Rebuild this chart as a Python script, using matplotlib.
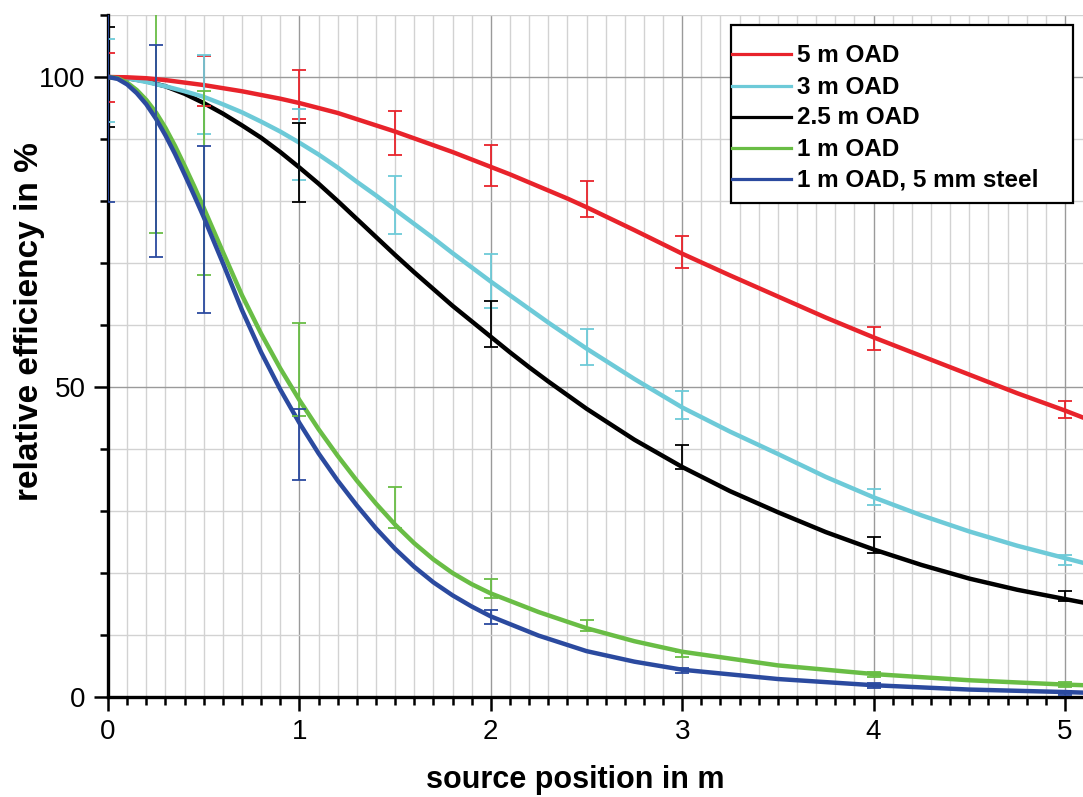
import matplotlib
matplotlib.use("Agg")
import matplotlib.pyplot as plt
from matplotlib.ticker import MultipleLocator, FixedLocator
from matplotlib.lines import Line2D
from matplotlib.patches import Rectangle

plt.rcParams['font.family'] = ['Liberation Sans', 'DejaVu Sans']

# ---------------- data ----------------
labels = ["5 m OAD", "3 m OAD", "2.5 m OAD", "1 m OAD", "1 m OAD, 5 mm steel"]
colors = ["#e8232b", "#6dcad8", "#000000", "#69bd45", "#2b4a9f"]

# model curves
x_rcb = [0, 0.1, 0.2, 0.3, 0.4, 0.5, 0.6, 0.7, 0.8, 0.9, 1.0, 1.1, 1.2, 1.3, 1.4, 1.5,
         1.6, 1.7, 1.8, 1.9, 2.0, 2.1, 2.2, 2.3, 2.4, 2.5, 2.75, 3.0, 3.25, 3.5, 3.75,
         4.0, 4.25, 4.5, 4.75, 5.0, 5.1]
red_curve = [100, 99.95, 99.8, 99.5, 99.1, 98.7, 98.2, 97.7, 97.1, 96.5, 95.8, 95.0, 94.2,
             93.2, 92.2, 91.2, 90.1, 89.0, 87.9, 86.7, 85.5, 84.3, 83.0, 81.7, 80.4, 79.0,
             75.3, 71.5, 68.0, 64.6, 61.2, 58.0, 55.0, 52.0, 49.0, 46.2, 45.0]
cyan_curve = [100, 99.8, 99.2, 98.5, 97.7, 96.8, 95.6, 94.3, 92.8, 91.2, 89.4, 87.5, 85.4,
              83.1, 80.9, 78.6, 76.3, 74.0, 71.6, 69.3, 67.0, 64.8, 62.6, 60.4, 58.3, 56.2,
              51.3, 46.7, 42.8, 39.2, 35.5, 32.2, 29.3, 26.7, 24.4, 22.4, 21.6]
black_curve = [100, 99.8, 99.3, 98.5, 97.3, 95.8, 94.1, 92.2, 90.2, 87.9, 85.4, 82.8, 80.0,
               77.1, 74.2, 71.3, 68.5, 65.8, 63.1, 60.6, 58.1, 55.6, 53.2, 50.9, 48.7, 46.5,
               41.5, 37.1, 33.2, 29.8, 26.6, 23.8, 21.3, 19.1, 17.3, 15.8, 15.2]

x_gb = [0, 0.05, 0.1, 0.15, 0.2, 0.25, 0.3, 0.35, 0.4, 0.45, 0.5, 0.6, 0.7, 0.8, 0.9,
        1.0, 1.1, 1.2, 1.3, 1.4, 1.5, 1.6, 1.7, 1.8, 1.9, 2.0, 2.25, 2.5, 2.75, 3.0,
        3.5, 4.0, 4.5, 5.0, 5.1]
green_curve = [100, 99.8, 99.1, 97.9, 96.3, 94.3, 91.8, 88.9, 85.7, 82.4, 78.9, 71.8, 64.8,
               58.6, 53.0, 47.9, 43.2, 38.9, 34.9, 31.2, 27.8, 24.8, 22.2, 20.0, 18.2, 16.7,
               13.7, 11.1, 9.0, 7.3, 5.1, 3.7, 2.7, 2.0, 1.9]
blue_curve = [100, 99.7, 98.8, 97.4, 95.6, 93.3, 90.6, 87.6, 84.3, 80.9, 77.4, 70.0, 62.4,
              55.6, 49.6, 44.2, 39.3, 34.9, 30.9, 27.2, 23.9, 21.0, 18.5, 16.4, 14.6, 13.0,
              9.9, 7.4, 5.7, 4.4, 2.9, 1.9, 1.2, 0.8, 0.7]

# measured data: error bar ranges (low, high)
red_x = [0, 0.5, 1, 1.5, 2, 2.5, 3, 4, 5]
red_lo = [95.9, 95.3, 93.3, 87.4, 82.5, 77.4, 69.2, 56.0, 45.0]
red_hi = [103.9, 103.4, 101.1, 94.5, 89.0, 83.2, 74.4, 59.7, 47.8]

cyan_x = [0, 0.5, 1, 1.5, 2, 2.5, 3, 4, 5]
cyan_lo = [92.8, 90.8, 83.4, 74.6, 62.8, 53.5, 44.8, 31.0, 21.3]
cyan_hi = [106.1, 103.6, 94.8, 84.0, 71.5, 59.4, 49.4, 33.5, 22.9]

black_x = [0, 1, 2, 3, 4, 5]
black_lo = [91.9, 79.8, 56.5, 36.7, 23.3, 15.5]
black_hi = [108.1, 92.6, 63.9, 40.7, 25.8, 17.1]

green_x = [0.25, 0.5, 1, 1.5, 2, 2.5, 3, 4, 5]
green_lo = [74.9, 68.0, 45.4, 27.2, 16.0, 10.7, 6.5, 3.3, 1.6]
green_hi = [113.0, 97.8, 60.4, 33.9, 19.1, 12.4, 7.3, 4.1, 2.4]

blue_x = [0, 0.25, 0.5, 1, 2, 3, 4, 5]
blue_lo = [79.9, 70.9, 61.9, 35.0, 11.7, 3.8, 1.4, 0.4]
blue_hi = [120.0, 105.2, 88.8, 46.5, 14.0, 4.6, 2.2, 1.0]

x_ticks = [0, 1, 2, 3, 4, 5]
y_ticks = [0, 50, 100]

# ---------------- figure ----------------
W, H = 1083, 797
fig = plt.figure(figsize=(W / 100, H / 100), dpi=100)
ax = fig.add_axes([108 / W, 100 / H, 975 / W, 682 / H])

ax.set_xlim(0, 975 / 191.4)
ax.set_ylim(0, 110)

ax.xaxis.set_major_locator(FixedLocator(x_ticks))
ax.xaxis.set_minor_locator(MultipleLocator(0.1))
ax.yaxis.set_major_locator(FixedLocator(y_ticks))
ax.yaxis.set_minor_locator(MultipleLocator(10))
ax.grid(which='minor', color='#d2d2d2', linewidth=1.0, zorder=0)
ax.grid(which='major', color='#9a9a9a', linewidth=1.0, zorder=0)
ax.set_axisbelow(True)

for sp in ['top', 'right']:
    ax.spines[sp].set_visible(False)
for sp in ['left', 'bottom']:
    ax.spines[sp].set_linewidth(2.4)
    ax.spines[sp].set_color('black')

ax.tick_params(which='major', direction='out', length=10, width=1.8, labelsize=20)
ax.tick_params(which='minor', direction='out', length=5.5, width=1.8)
ax.tick_params(axis='x', which='major', pad=6)
ax.tick_params(axis='y', which='major', pad=6)

curves = [(x_rcb, red_curve), (x_rcb, cyan_curve), (x_rcb, black_curve),
          (x_gb, green_curve), (x_gb, blue_curve)]
bars = [(red_x, red_lo, red_hi), (cyan_x, cyan_lo, cyan_hi), (black_x, black_lo, black_hi),
        (green_x, green_lo, green_hi), (blue_x, blue_lo, blue_hi)]

for (cx, cy), col, z in zip(curves, colors, [4, 3, 2, 5, 6]):
    ax.plot(cx, cy, color=col, linewidth=3.2, zorder=z, solid_joinstyle='round')

for (bx, lo, hi), col in zip(bars, colors):
    mid = [(a + b) / 2 for a, b in zip(lo, hi)]
    half = [(b - a) / 2 for a, b in zip(lo, hi)]
    ax.errorbar(bx, mid, yerr=half, fmt='none', ecolor=col, elinewidth=1.3,
                capsize=5.2, capthick=1.3, zorder=7)

ax.set_xlabel("source position in m", fontsize=22, fontweight='bold')
ax.xaxis.set_label_coords(0.479, -0.099)
ax.set_ylabel("relative efficiency in %", fontsize=24, fontweight='bold')
ax.yaxis.set_label_coords(-0.065, 0.55)

# legend drawn by hand (handles start at the frame edge)
def fx(px):
    return (px - 108) / 975

def fy(py):
    return (697 - py) / 682

ax.add_patch(Rectangle((fx(731), fy(203)), fx(1073) - fx(731), fy(25) - fy(203),
                       transform=ax.transAxes, facecolor='white', edgecolor='black',
                       linewidth=1.6, zorder=10, clip_on=False))
row_y = [54, 86, 117, 148, 179]
for lab, col, ry in zip(labels, colors, row_y):
    ax.add_line(Line2D([fx(732), fx(791)], [fy(ry), fy(ry)], transform=ax.transAxes,
                       color=col, linewidth=2.3, zorder=11, clip_on=False))
    ax.text(fx(797), fy(ry + 1), lab, transform=ax.transAxes, fontsize=17.5,
            fontweight='bold', va='center', ha='left', zorder=12)

fig.savefig("out.png", dpi=100)
